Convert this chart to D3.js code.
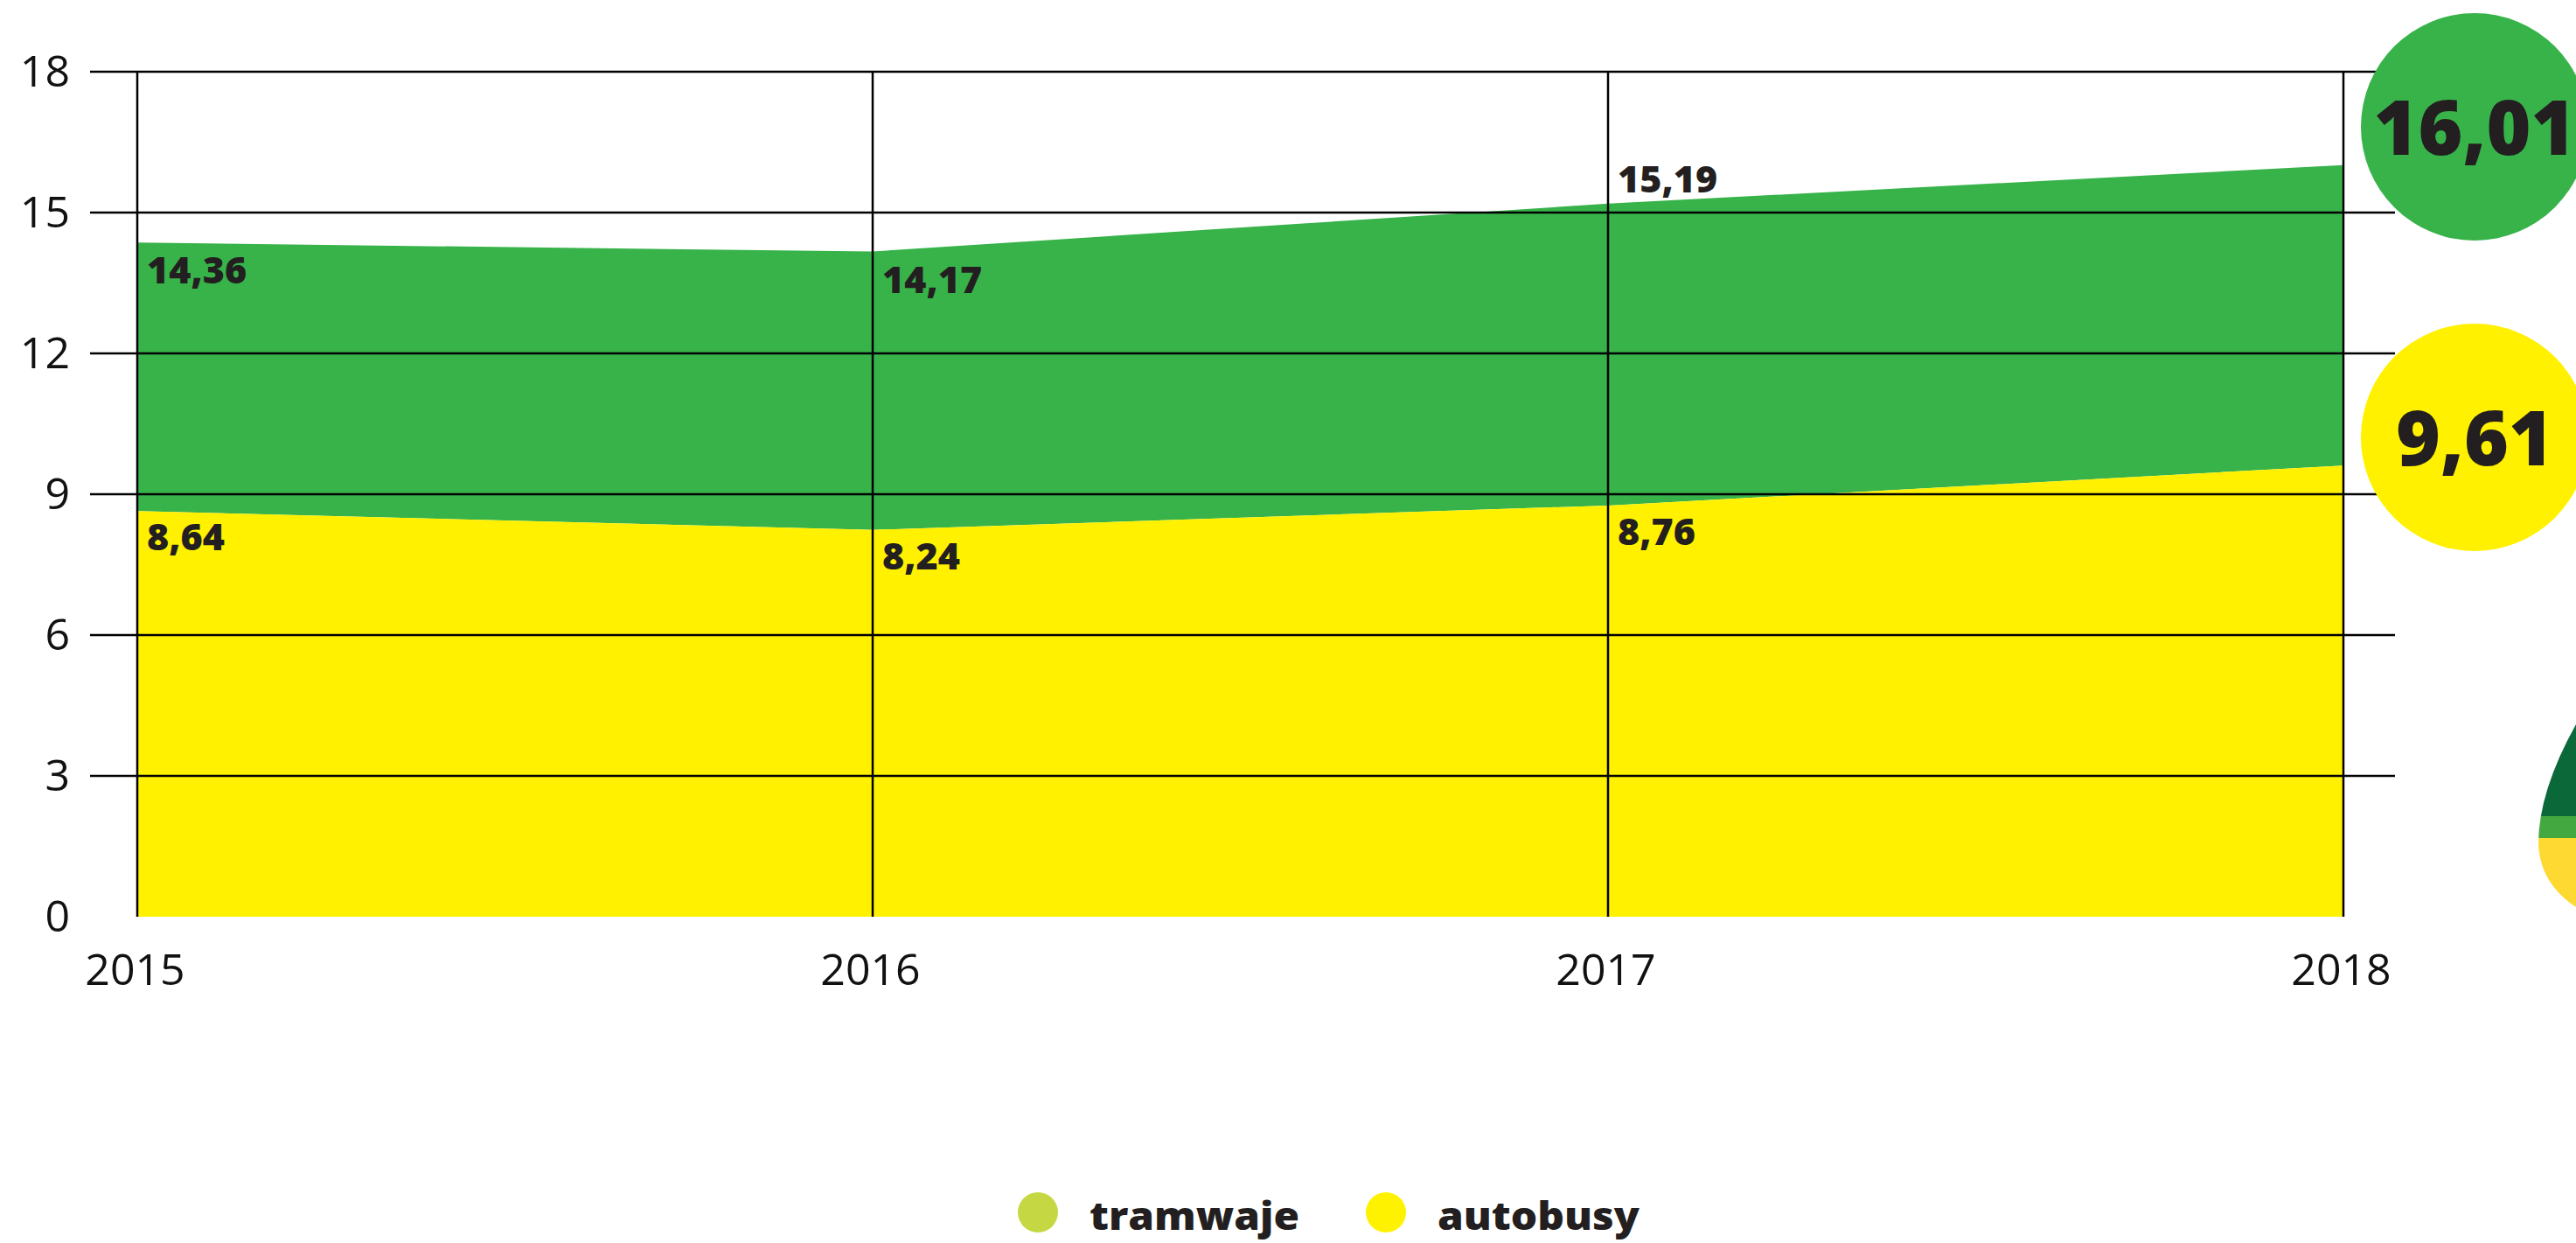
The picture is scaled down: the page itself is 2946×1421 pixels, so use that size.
<!DOCTYPE html>
<html>
<head>
<meta charset="utf-8">
<script src="https://cdn.jsdelivr.net/npm/d3@7"></script>
<style>
  body { margin: 0; background: #fff; }
  svg { display: block; font-family: "Open Sans", sans-serif; }
  .val { font-weight: 800; fill: #231f20; }
  .axis text { font-size: 50px; fill: #111; font-family: "Open Sans", sans-serif; }
</style>
</head>
<body>
<div id="chart"></div>
<script>
const years = [2015, 2016, 2017, 2018];
const autobusy = [8.64, 8.24, 8.76, 9.61];
const razem = [14.36, 14.17, 15.19, 16.01];
const yTicks = [0, 3, 6, 9, 12, 15, 18];
const legendItems = [
    { name: "tramwaje", color: "#c5d843" },
    { name: "autobusy", color: "#fff200" }
];

const width = 2946, height = 1421;

const x = d3.scaleLinear().domain([2015, 2018]).range([157, 2680]);
const y = d3.scaleLinear().domain([0, 18]).range([1048, 82]);

const svg = d3.select("#chart").append("svg")
    .attr("width", width)
    .attr("height", height);

const rows = years.map((yr, i) => ({ year: yr, bus: autobusy[i], total: razem[i] }));

//areas
svg.append("path")
    .datum(rows)
    .attr("fill", "#37b34a")
    .attr("d", d3.area().x(d => x(d.year)).y0(d => y(d.bus)).y1(d => y(d.total)));

svg.append("path")
    .datum(rows)
    .attr("fill", "#fff100")
    .attr("d", d3.area().x(d => x(d.year)).y0(y(0)).y1(d => y(d.bus)));

//grid
svg.append("g")
    .selectAll("line")
    .data(yTicks.filter(t => t > 0))
    .join("line")
    .attr("x1", 103).attr("x2", 2739)
    .attr("y1", d => y(d)).attr("y2", d => y(d))
    .attr("stroke", "#000").attr("stroke-width", 2.5);

svg.append("g")
    .selectAll("line")
    .data(years)
    .join("line")
    .attr("x1", d => x(d)).attr("x2", d => x(d))
    .attr("y1", y(18)).attr("y2", y(0))
    .attr("stroke", "#000").attr("stroke-width", 2.5);

//axes
const yAxis = svg.append("g")
    .attr("class", "axis")
    .attr("transform", "translate(80,0)")
    .call(d3.axisLeft(y).tickValues(yTicks).tickSize(0).tickPadding(0));
yAxis.select(".domain").remove();

const xAxis = svg.append("g")
    .attr("class", "axis")
    .attr("transform", `translate(-3,${y(0)})`)
    .call(d3.axisBottom(x).tickValues(years).tickFormat(d3.format("d")).tickSize(0).tickPadding(42));
xAxis.select(".domain").remove();

const fmt = v => v.toFixed(2).replace(".", ",");

//value labels (not for the last year, shown in circles)
const inner = rows.slice(0, 3);
svg.append("g")
    .selectAll("text")
    .data(inner)
    .join("text")
    .attr("class", "val")
    .attr("font-size", 43)
    .attr("x", d => x(d.year) + 11)
    .attr("y", (d, i) => i == 2 ? y(d.total) - 13 : y(d.total) + 47)
    .text(d => fmt(d.total));

svg.append("g")
    .selectAll("text")
    .data(inner)
    .join("text")
    .attr("class", "val")
    .attr("font-size", 43)
    .attr("x", d => x(d.year) + 11)
    .attr("y", d => y(d.bus) + 45)
    .text(d => fmt(d.bus));

//circles for the last year
const last = rows[rows.length - 1];
const bubbles = [
    { v: last.total, cy: 145, color: "#37b34a" },
    { v: last.bus, cy: 500, color: "#fff100" }
];
const bg = svg.append("g")
    .selectAll("g")
    .data(bubbles)
    .join("g")
    .attr("transform", d => `translate(2830,${d.cy})`);
bg.append("circle").attr("r", 130).attr("fill", d => d.color);
bg.append("text")
    .attr("class", "val")
    .attr("font-size", 87)
    .attr("text-anchor", "middle")
    .attr("y", 32)
    .text(d => fmt(d.v));

//drop decoration at the right edge
const defs = svg.append("defs");
defs.append("clipPath").attr("id", "dropClip")
    .append("path")
    .attr("d", "M 2946 828 Q 2903 905 2903 965 Q 2905 1010 2946 1037 Z");
const drop = svg.append("g").attr("clip-path", "url(#dropClip)");
drop.append("rect").attr("x", 2890).attr("y", 800).attr("width", 60).attr("height", 133).attr("fill", "#0b6838");
drop.append("rect").attr("x", 2890).attr("y", 933).attr("width", 60).attr("height", 25).attr("fill", "#43a83f");
drop.append("rect").attr("x", 2890).attr("y", 958).attr("width", 60).attr("height", 90).attr("fill", "#fdd931");

//legend
const legendX = [1187, 1585];
const lg = svg.append("g")
    .selectAll("g")
    .data(legendItems)
    .join("g")
    .attr("transform", (d, i) => `translate(${legendX[i]},1386)`);
lg.append("ellipse").attr("rx", 23).attr("ry", 23).attr("fill", d => d.color);
lg.append("text")
    .attr("class", "val")
    .attr("font-size", 45)
    .attr("x", 59)
    .attr("y", 20)
    .attr("textLength", (d, i) => i == 0 ? 240 : 231)
    .attr("lengthAdjust", "spacingAndGlyphs")
    .text(d => d.name);
</script>
</body>
</html>
